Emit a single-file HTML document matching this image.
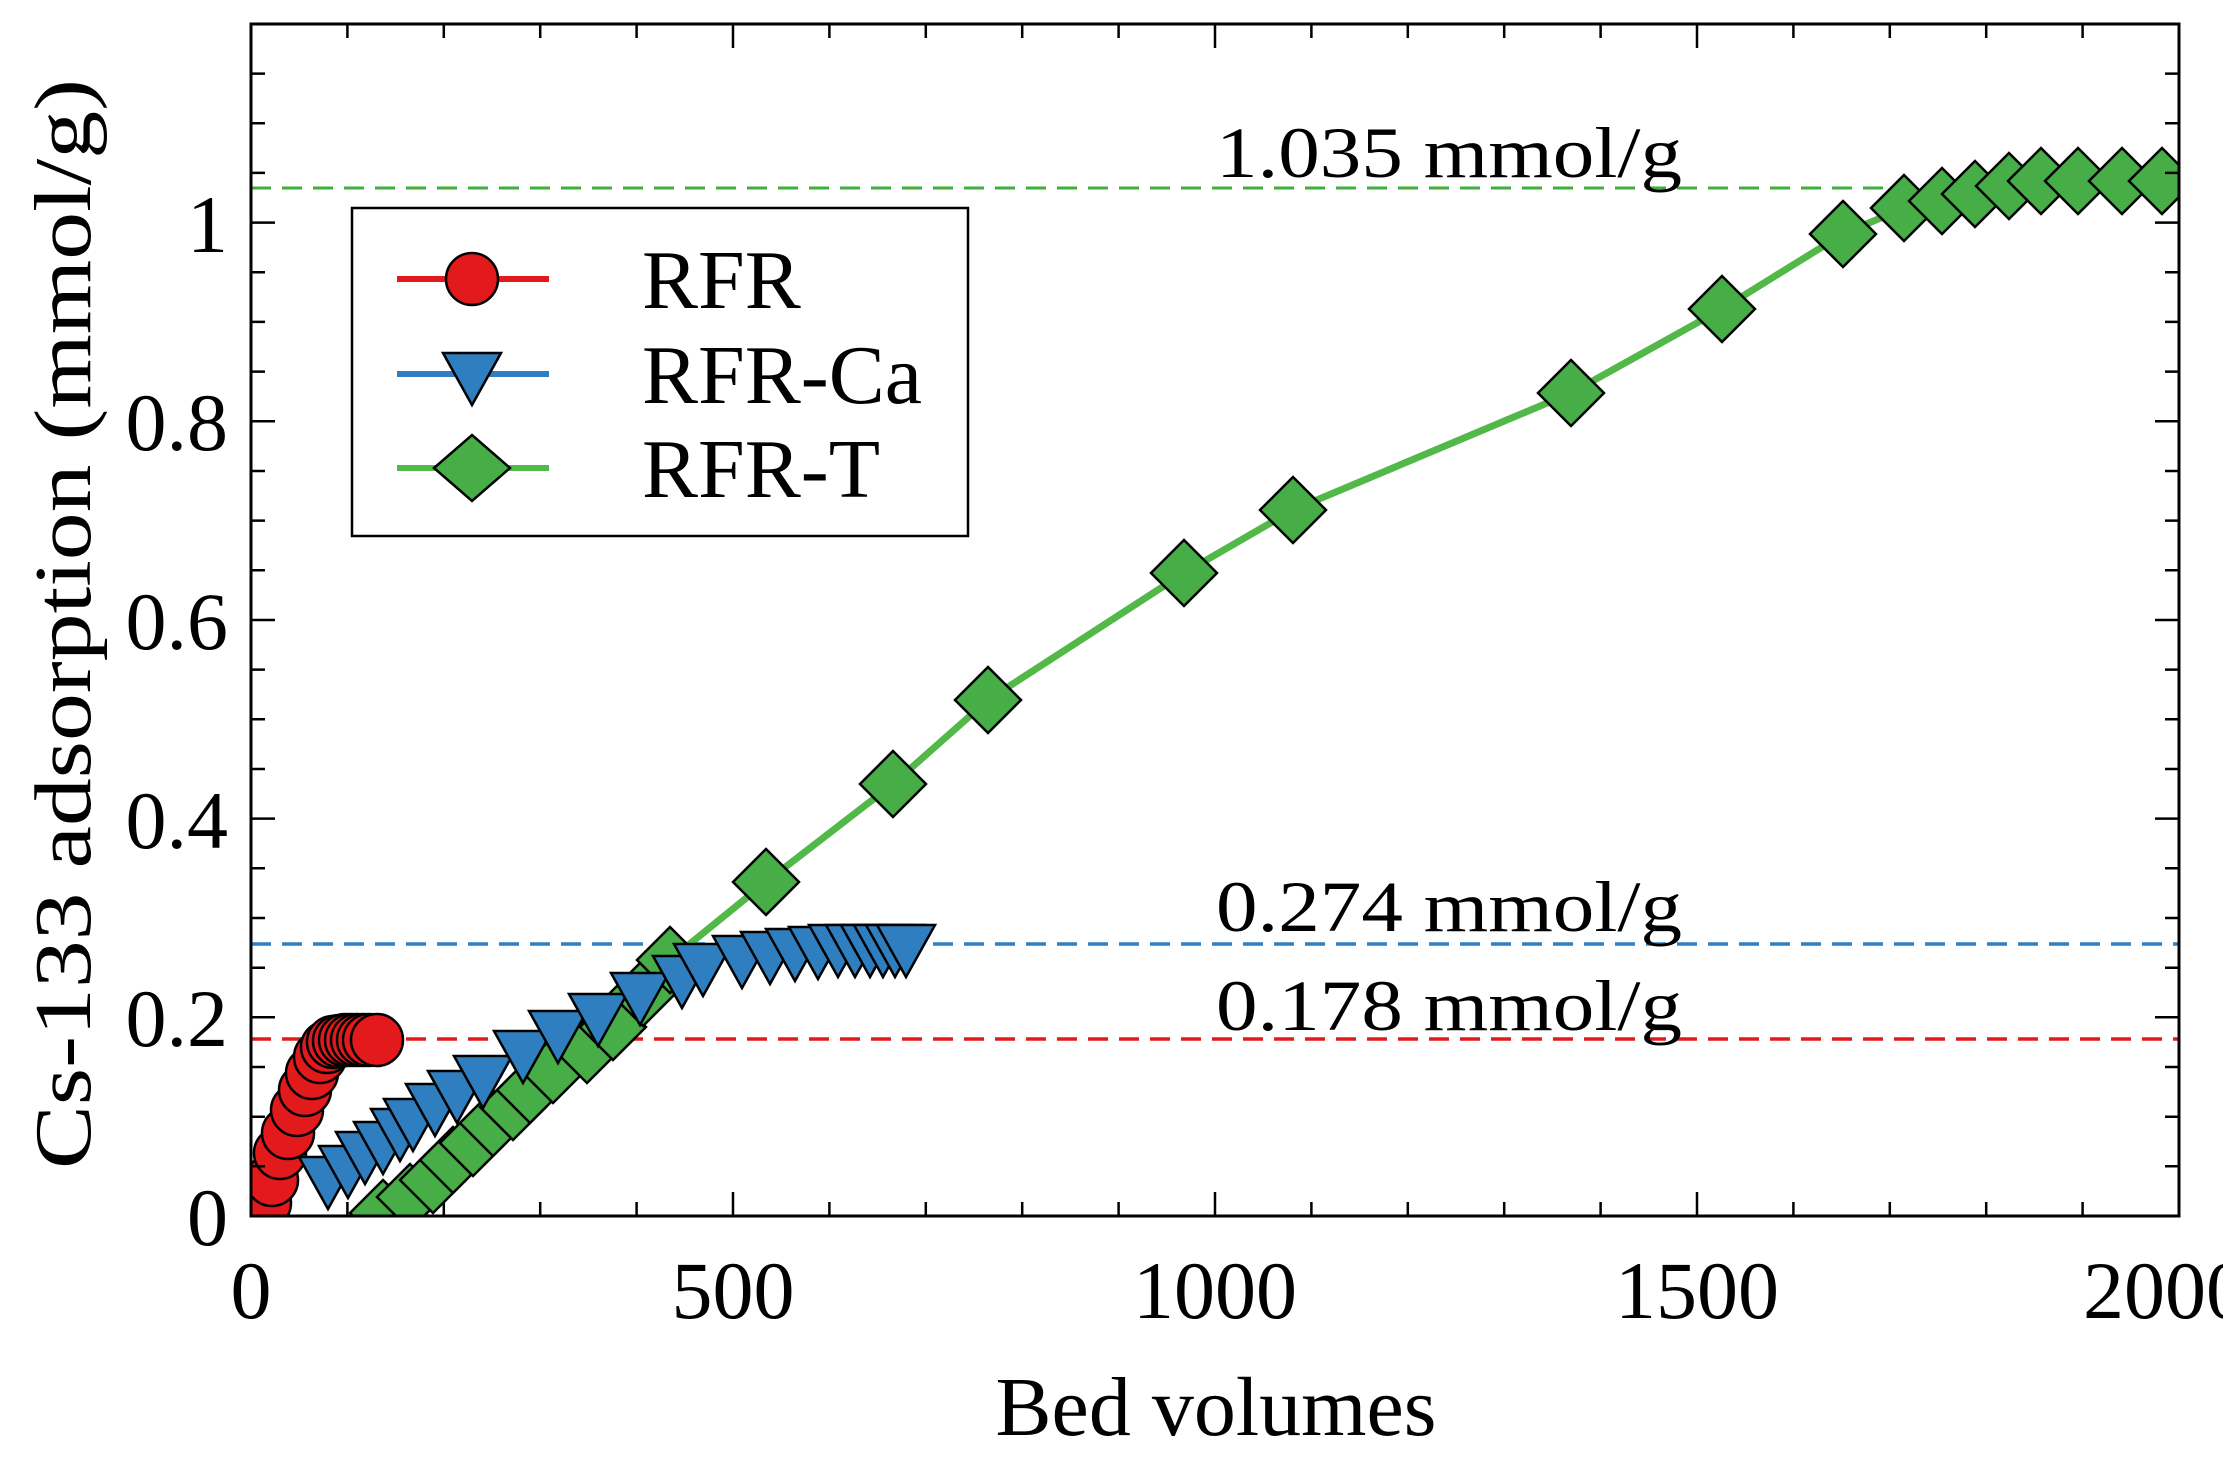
<!DOCTYPE html>
<html><head><style>html,body{margin:0;padding:0;background:#fff;}svg{display:block;}</style></head>
<body>
<svg width="2223" height="1458" viewBox="0 0 2223 1458" xmlns="http://www.w3.org/2000/svg" font-family="Liberation Serif, serif">
<defs>
<clipPath id="c"><rect x="251" y="24" width="1928" height="1192"/></clipPath>
</defs>
<rect width="2223" height="1458" fill="#fff"/>
<g clip-path="url(#c)">
<line x1="251" y1="188" x2="2179" y2="188" stroke="#3fae3f" stroke-width="3" stroke-dasharray="20,11"/>
<line x1="251" y1="944" x2="2179" y2="944" stroke="#2f7fc4" stroke-width="3.5" stroke-dasharray="20,11"/>
<line x1="251" y1="1039" x2="2179" y2="1039" stroke="#e31a1c" stroke-width="3.5" stroke-dasharray="20,11"/>
<g fill="#e31a1c" stroke="#000" stroke-width="2.5">
<circle cx="253" cy="1212" r="26"/><circle cx="258" cy="1198" r="26"/>
<circle cx="265" cy="1203" r="26"/><circle cx="272" cy="1180" r="26"/><circle cx="280" cy="1153" r="26"/><circle cx="288" cy="1133" r="26"/><circle cx="297" cy="1110" r="26"/><circle cx="305" cy="1090" r="26"/><circle cx="312" cy="1073" r="26"/><circle cx="320" cy="1057" r="26"/><circle cx="327" cy="1047" r="26"/><circle cx="333" cy="1042" r="26"/><circle cx="339" cy="1041" r="26"/><circle cx="345" cy="1040" r="26"/><circle cx="351" cy="1040" r="26"/><circle cx="357" cy="1040" r="26"/><circle cx="363" cy="1040" r="26"/><circle cx="369" cy="1040" r="26"/><circle cx="377" cy="1040" r="26"/>
</g>
<polyline fill="none" stroke="#52b848" stroke-width="7" points="383,1213 410,1197 433,1180 453,1160 473,1143 493,1123 513,1107 530,1090 553,1070 587,1050 613,1027 643,993 659,950 670,960 766,882 893,784 988,700 1184,573 1293,510 1571,393 1722,309 1843,234 1904,208 1942,201 1975,194 2009,186 2041,181 2078,181 2122,181 2162,181"/>
<g fill="#47ad47" stroke="#000" stroke-width="2.5">
<path d="M383,1180l33,33l-33,33l-33,-33z"/><path d="M410,1164l33,33l-33,33l-33,-33z"/><path d="M433,1147l33,33l-33,33l-33,-33z"/><path d="M453,1127l33,33l-33,33l-33,-33z"/><path d="M473,1110l33,33l-33,33l-33,-33z"/><path d="M493,1090l33,33l-33,33l-33,-33z"/><path d="M513,1074l33,33l-33,33l-33,-33z"/><path d="M530,1057l33,33l-33,33l-33,-33z"/><path d="M553,1037l33,33l-33,33l-33,-33z"/><path d="M587,1017l33,33l-33,33l-33,-33z"/><path d="M613,994l33,33l-33,33l-33,-33z"/><path d="M643,960l33,33l-33,33l-33,-33z"/><path d="M670,927l33,33l-33,33l-33,-33z"/>
</g>
<g fill="#2f7fc0" stroke="#000" stroke-width="2.5">
<path d="M299,1157h58l-29,52z"/><path d="M319,1146h58l-29,52z"/><path d="M336,1132h58l-29,52z"/><path d="M354,1122h58l-29,52z"/><path d="M371,1109h58l-29,52z"/><path d="M384,1099h58l-29,52z"/><path d="M406,1084h58l-29,52z"/><path d="M428,1071h58l-29,52z"/><path d="M454,1056h58l-29,52z"/><path d="M494,1031h58l-29,52z"/><path d="M529,1011h58l-29,52z"/><path d="M569,994h58l-29,52z"/><path d="M611,973h58l-29,52z"/><path d="M653,956h58l-29,52z"/><path d="M674,944h58l-29,52z"/><path d="M713,936h58l-29,52z"/><path d="M741,932h58l-29,52z"/><path d="M766,929h58l-29,52z"/><path d="M789,927h58l-29,52z"/><path d="M809,925h58l-29,52z"/><path d="M826,925h58l-29,52z"/><path d="M841,925h58l-29,52z"/><path d="M854,925h58l-29,52z"/><path d="M866,925h58l-29,52z"/><path d="M877,925h58l-29,52z"/>
</g>
<g fill="#47ad47" stroke="#000" stroke-width="2.5">
<path d="M766,849l33,33l-33,33l-33,-33z"/><path d="M893,751l33,33l-33,33l-33,-33z"/><path d="M988,667l33,33l-33,33l-33,-33z"/><path d="M1184,540l33,33l-33,33l-33,-33z"/><path d="M1293,477l33,33l-33,33l-33,-33z"/><path d="M1571,360l33,33l-33,33l-33,-33z"/><path d="M1722,276l33,33l-33,33l-33,-33z"/><path d="M1843,201l33,33l-33,33l-33,-33z"/><path d="M1904,175l33,33l-33,33l-33,-33z"/><path d="M1942,168l33,33l-33,33l-33,-33z"/><path d="M1975,161l33,33l-33,33l-33,-33z"/><path d="M2009,153l33,33l-33,33l-33,-33z"/><path d="M2041,148l33,33l-33,33l-33,-33z"/><path d="M2078,148l33,33l-33,33l-33,-33z"/><path d="M2122,148l33,33l-33,33l-33,-33z"/><path d="M2162,148l33,33l-33,33l-33,-33z"/>
</g>
</g>
<rect x="251" y="24" width="1928" height="1192" fill="none" stroke="#000" stroke-width="3"/>
<g stroke="#000" stroke-width="2.5" fill="none">
<path d="M347.4,1216v-14M443.8,1216v-14M540.2,1216v-14M636.6,1216v-14M733,1216v-24M829.4,1216v-14M925.8,1216v-14M1022.2,1216v-14M1118.6,1216v-14M1215,1216v-24M1311.4,1216v-14M1407.8,1216v-14M1504.2,1216v-14M1600.6,1216v-14M1697,1216v-24M1793.4,1216v-14M1889.8,1216v-14M1986.2,1216v-14M2082.6,1216v-14"/>
<path d="M347.4,24v14M443.8,24v14M540.2,24v14M636.6,24v14M733,24v24M829.4,24v14M925.8,24v14M1022.2,24v14M1118.6,24v14M1215,24v24M1311.4,24v14M1407.8,24v14M1504.2,24v14M1600.6,24v14M1697,24v24M1793.4,24v14M1889.8,24v14M1986.2,24v14M2082.6,24v14"/>
<path d="M251,1166.3h14M251,1116.7h14M251,1067h14M251,1017.3h24M251,967.7h14M251,918h14M251,868.3h14M251,818.6h24M251,769h14M251,719.3h14M251,669.6h14M251,620h24M251,570.3h14M251,520.6h14M251,471h14M251,421.3h24M251,371.6h14M251,321.9h14M251,272.3h14M251,222.6h24M251,172.9h14M251,123.3h14M251,73.6h14"/>
<path d="M2179,1166.3h-14M2179,1116.7h-14M2179,1067h-14M2179,1017.3h-24M2179,967.7h-14M2179,918h-14M2179,868.3h-14M2179,818.6h-24M2179,769h-14M2179,719.3h-14M2179,669.6h-14M2179,620h-24M2179,570.3h-14M2179,520.6h-14M2179,471h-14M2179,421.3h-24M2179,371.6h-14M2179,321.9h-14M2179,272.3h-14M2179,222.6h-24M2179,172.9h-14M2179,123.3h-14M2179,73.6h-14"/>
</g>
<g font-size="82" fill="#000">
<text x="251" y="1318" text-anchor="middle">0</text>
<text x="733" y="1318" text-anchor="middle">500</text>
<text x="1215" y="1318" text-anchor="middle">1000</text>
<text x="1697" y="1318" text-anchor="middle">1500</text>
<text x="2165" y="1318" text-anchor="middle">2000</text>
<text x="228" y="1245" text-anchor="end">0</text>
<text x="228" y="1046" text-anchor="end">0.2</text>
<text x="228" y="848" text-anchor="end">0.4</text>
<text x="228" y="649" text-anchor="end">0.6</text>
<text x="228" y="450" text-anchor="end">0.8</text>
<text x="228" y="252" text-anchor="end">1</text>
<text x="1216" y="1435" text-anchor="middle" font-size="84">Bed volumes</text>
<text transform="translate(90,624) rotate(-90)" text-anchor="middle" font-size="80" textLength="1090" lengthAdjust="spacingAndGlyphs">Cs-133 adsorption (mmol/g)</text>
<text x="1216" y="177" font-size="72" textLength="466" lengthAdjust="spacingAndGlyphs">1.035 mmol/g</text>
<text x="1216" y="931" font-size="72" textLength="466" lengthAdjust="spacingAndGlyphs">0.274 mmol/g</text>
<text x="1216" y="1030" font-size="72" textLength="466" lengthAdjust="spacingAndGlyphs">0.178 mmol/g</text>
</g>
<rect x="352" y="208" width="616" height="328" fill="#fff" stroke="#000" stroke-width="2.5"/>
<line x1="397" y1="279" x2="549" y2="279" stroke="#e31a1c" stroke-width="6"/>
<circle cx="472" cy="279" r="26" fill="#e31a1c" stroke="#000" stroke-width="2.5"/>
<line x1="397" y1="374" x2="549" y2="374" stroke="#2f7fc0" stroke-width="6"/>
<path d="M443,353h58l-29,52z" fill="#2f7fc0" stroke="#000" stroke-width="2.5"/>
<line x1="397" y1="468" x2="549" y2="468" stroke="#52b848" stroke-width="6"/>
<path d="M472,435l38,33l-38,33l-38,-33z" fill="#47ad47" stroke="#000" stroke-width="2.5"/>
<g font-size="84" fill="#000">
<text x="642" y="308">RFR</text>
<text x="642" y="403">RFR-Ca</text>
<text x="642" y="497">RFR-T</text>
</g>
</svg>
</body></html>
